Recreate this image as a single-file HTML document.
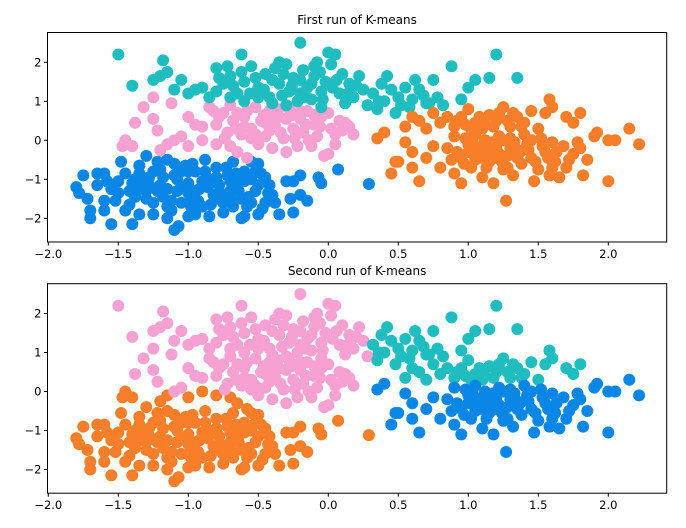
<!DOCTYPE html>
<html><head><meta charset="utf-8"><style>
body{margin:0;background:#fff}
svg{display:block;font-family:"DejaVu Sans","Liberation Sans",sans-serif}
</style></head><body>
<svg id="fig" width="686" height="528" viewBox="0 0 686 528"></svg>
<script>
// clusters of points [x, y]
const lowerLeft = [[-1.8,-1.2],[-1.78,-1.35],[-1.75,-0.9],[-1.72,-1.5],[-1.7,-1.8],[-1.7,-2.0],[-1.65,-0.85],[-1.6,-0.85],[-1.65,-1.15],[-1.6,-1.55],[-1.6,-1.8],[-1.55,-2.15],[-1.5,-1.35],[-1.45,-1.8],[-1.4,-2.15],[-1.35,-1.9],[-1.1,-2.3],[-1.07,-2.2],[-1.0,-1.95],[-0.85,-1.95],[-0.6,-1.95],[-0.5,-1.9],[-0.35,-1.9],[-0.25,-1.85],[-0.27,-1.5],[-0.3,-1.05],[-0.25,-1.05],[-0.2,-0.9],[-0.2,-1.4],[-0.15,-1.55],[-0.07,-0.95],[-0.05,-1.1],[0.07,-0.75],[0.29,-1.12],
[-1.45,-0.85],[-1.4,-1.1],[-1.38,-1.45],[-1.35,-0.65],[-1.3,-0.4],[-1.3,-1.3],[-1.28,-0.95],[-1.25,-1.6],[-1.2,-0.75],[-1.2,-1.15],[-1.18,-1.45],[-1.15,-0.5],[-1.12,-1.8],[-1.1,-0.9],[-1.08,-1.3],[-1.05,-1.6],[-1.02,-0.65],[-1.0,-1.1],[-0.98,-1.45],[-0.95,-0.8],[-0.92,-1.25],[-0.9,-1.7],[-0.88,-0.5],[-0.85,-1.0],[-0.82,-1.4],[-0.8,-0.7],[-0.78,-1.15],[-0.75,-1.6],[-0.72,-0.9],[-0.7,-1.3],[-0.68,-0.55],[-0.65,-1.1],[-0.62,-1.5],[-0.6,-0.8],[-0.58,-1.7],[-0.55,-1.0],[-0.52,-1.3],[-0.5,-0.6],[-0.48,-0.85],[-0.45,-1.6],[-0.42,-1.15],[-0.4,-1.4],[-1.5,-1.05],[-1.55,-1.25],[-1.42,-1.65],[-1.25,-1.9],[-1.15,-2.0],[-1.32,-1.05],[-0.95,-1.9],[-0.75,-1.85],[-1.48,-0.55],[-0.55,-0.55],[-0.62,-2.0],[-0.47,-1.75],[-1.1,-0.6],[-0.9,-1.05],[-1.22,-1.3],[-0.7,-1.05],[-1.35,-1.25],[-1.0,-0.8],
[-1.42,-1.3],[-1.35,-0.85],[-1.28,-1.15],[-1.22,-0.55],[-1.18,-0.95],[-1.15,-1.25],[-1.12,-1.55],[-1.05,-0.8],[-1.03,-1.2],[-0.97,-0.6],[-0.95,-1.3],[-0.93,-1.55],[-0.88,-0.8],[-0.86,-1.2],[-0.84,-1.65],[-0.8,-0.95],[-0.77,-1.35],[-0.73,-0.7],[-0.7,-1.5],[-0.66,-0.85],[-0.64,-1.3],[-0.6,-1.05],[-0.57,-1.45],[-0.52,-0.8],[-0.5,-1.15],[-0.45,-0.95],[-0.43,-1.35],[-1.25,-0.8],[-1.3,-1.5],[-1.15,-1.7],[-1.08,-1.0],[-1.0,-1.35],[-0.98,-1.7],[-1.38,-1.0],[-0.8,-1.5],[-0.68,-1.7],[-0.38,-1.6],[-0.55,-1.6],[-1.58,-1.05],[-1.52,-1.55]];
const middleLeftLow = [[-1.47,-0.15],[-1.4,-0.15],[-1.2,-0.25],[-1.15,-0.1],[-1.0,-0.15],[-0.8,-0.1],[-0.65,-0.3],[-0.58,-0.45],[-0.7,-0.15],[-1.45,0.0],[-0.9,0.0]];
const middleLeft = [[-1.38,0.45],[-1.32,0.85],[-1.25,1.1],[-1.25,0.55],[-1.22,0.25],[-1.12,0.95],[-1.1,0.0],[-1.05,0.1],[-0.95,0.4],[-0.9,0.35],[-0.85,0.85],[-0.8,0.4],[-0.75,0.7],[-0.72,0.2],[-0.7,0.9],[-0.68,0.5],[-0.62,0.15],[-0.6,0.6],[-0.55,0.3],[-0.52,0.85],[-0.5,-0.1],[-0.48,0.5],[-0.45,0.1],[-0.42,0.75],[-0.4,-0.2],[-0.38,0.35],[-0.35,0.6],[-0.32,0.05],[-0.3,-0.3],[-0.28,0.8],[-0.25,0.3],[-0.22,-0.15],[-0.2,0.55],[-0.18,0.2],[-0.15,0.75],[-0.12,-0.15],[-0.1,0.4],[-0.08,0.1],[-0.05,0.6],[-0.03,-0.4],[0.0,-0.35],[0.02,0.3],[0.05,0.15],[0.08,0.5],[0.12,0.45],[0.15,0.35],[0.18,0.15],[0.05,-0.1],[-1.0,0.6],[-0.55,0.05],[-0.65,0.7],[-0.45,0.45],[-0.3,0.55],[-0.6,0.35],
[-0.78,0.6],[-0.74,0.05],[-0.66,0.3],[-0.58,0.75],[-0.52,0.15],[-0.46,0.65],[-0.42,0.25],[-0.36,0.8],[-0.34,0.2],[-0.26,0.65],[-0.24,0.05],[-0.16,0.4],[-0.14,0.0],[-0.06,0.35],[0.0,0.7],[0.1,0.25],[-0.82,0.75],[-0.4,0.55],[-0.2,0.75],[-0.1,0.65]];
const upperLeft = [[-1.5,2.2],[-1.4,1.4],[-1.25,1.55],[-1.2,1.65],[-1.18,2.05],[-1.15,1.75],[-1.1,1.3],[-1.05,1.55],[-1.0,1.2],[-0.95,1.3],[-0.9,1.35],[-0.8,1.85],[-0.8,1.25],[-0.75,1.45],[-0.72,1.9],[-0.7,1.65],[-0.65,1.2],[-0.62,2.2],[-0.6,1.5],[-0.55,1.9],[-0.5,1.35],[-0.45,1.7],[-0.42,1.1],[-0.38,1.85],[-0.35,1.45],[-0.3,1.95],[-0.28,1.25],[-0.25,1.6],[-0.22,1.0],[-0.2,2.5],[-0.18,1.8],[-0.15,1.35],[-0.12,1.05],[-0.1,1.65],[-0.08,2.0],[-0.05,1.25],[-0.02,1.5],[0.0,2.25],[0.02,1.95],[0.05,2.2],[0.08,1.2],[0.1,1.7],[0.12,0.95],[0.15,1.45],[0.18,1.1],[0.22,1.65],[0.25,1.3],[0.28,0.9],[-0.4,0.95],[-0.6,1.0],[-0.85,1.1],[-0.3,0.9],[-0.05,0.85],[-0.5,1.1],[-0.2,1.2],
[-0.78,1.6],[-0.68,1.4],[-0.62,1.75],[-0.56,1.2],[-0.52,1.6],[-0.46,1.3],[-0.4,1.55],[-0.33,1.15],[-0.32,1.7],[-0.26,1.4],[-0.2,1.55],[-0.16,1.1],[-0.12,1.45],[-0.06,1.75],[-0.04,1.05],[0.03,1.35],[0.06,1.55],[0.14,1.2],[0.2,1.4],[-0.7,1.1],[-0.1,1.9],[-0.35,2.0]];
const upperMid = [[0.32,1.2],[0.35,0.8],[0.38,1.45],[0.4,1.0],[0.45,1.3],[0.48,0.7],[0.5,1.1],[0.55,1.35],[0.58,0.85],[0.6,1.05],[0.65,1.3],[0.7,0.95],[0.75,1.55],[0.78,1.1],[0.82,0.9],[0.88,1.9],[0.95,1.05],[1.0,1.35],[1.05,1.55],[1.15,1.6],[1.2,2.2],[1.35,1.6],[0.42,1.65],[0.62,1.55],[0.72,0.95],[0.36,1.0],[0.52,0.9],[0.68,1.15]];
const rightUpper = [[0.55,0.35],[0.6,0.6],[0.65,0.5],[0.7,0.3],[0.75,0.7],[0.8,0.45],[0.9,0.35],[0.95,0.6],[1.0,0.8],[1.05,0.45],[1.1,0.3],[1.15,0.65],[1.2,0.5],[1.25,0.85],[1.3,0.35],[1.35,0.6],[1.4,0.45],[1.5,0.3],[1.55,0.7],[1.58,1.05],[1.6,0.85],[1.7,0.6],[1.75,0.45],[1.8,0.7],[1.45,0.75],[0.85,0.6],
[0.98,0.4],[1.08,0.6],[1.12,0.4],[1.18,0.35],[1.22,0.7],[1.28,0.5],[1.32,0.7],[1.38,0.35],[1.02,0.3],[0.92,0.5]];
const rightLower = [[0.35,0.05],[0.4,0.2],[0.45,-0.85],[0.48,-0.55],[0.5,-0.55],[0.55,-0.05],[0.6,-0.3],[0.65,-1.05],[0.7,-0.45],[0.75,-0.15],[0.8,-0.7],[0.85,-0.2],[0.9,0.1],[0.95,-1.1],[0.95,-0.45],[1.0,-0.1],[1.02,-0.7],[1.05,0.15],[1.08,-0.35],[1.1,-0.95],[1.12,0.0],[1.15,-0.55],[1.18,-1.1],[1.2,-0.2],[1.22,0.1],[1.25,-0.75],[1.27,-1.55],[1.28,-0.4],[1.3,0.05],[1.32,-0.9],[1.35,-0.25],[1.38,-0.6],[1.4,0.15],[1.42,-0.1],[1.45,-0.45],[1.47,-1.05],[1.5,-0.75],[1.52,0.05],[1.55,-0.3],[1.58,-0.9],[1.6,-0.05],[1.62,-0.55],[1.65,-0.95],[1.68,-0.15],[1.7,-0.7],[1.75,-0.35],[1.78,-0.05],[1.82,-0.9],[1.85,-0.5],[1.9,0.1],[1.92,0.2],[2.0,0.0],[2.05,0.0],[2.15,0.3],[2.22,-0.1],[2.0,-1.05],[1.05,-0.5],[1.15,-0.3],[1.0,-0.3],[1.25,0.0],[1.35,-0.45],[0.9,-0.85],[0.6,-0.7],[1.1,-0.15],[1.2,-0.45],[1.3,-0.2],[0.98,0.05],
[0.92,-0.3],[0.97,-0.6],[1.03,0.0],[1.07,-0.25],[1.13,-0.7],[1.17,-0.05],[1.22,-0.35],[1.24,-0.55],[1.33,-0.05],[1.37,-0.3],[1.43,-0.25],[1.48,-0.55],[1.53,-0.15],[1.57,-0.45],[1.63,-0.3],[1.72,-0.5],[0.88,-0.5],[1.1,-0.45],[1.28,-0.7],[1.45,0.0],[1.6,-0.7],[1.8,-0.2]];
const groupNames = ['lower-left','middle-left-low','middle-left','upper-left','upper-mid','right-upper','right-lower'];
const run1Labels = ['blue','pink','pink','teal','teal','orange','orange'];
const run2Labels = ['orange','orange','pink','pink','teal','teal','blue'];
const xTicks = [-2.0,-1.5,-1.0,-0.5,0.0,0.5,1.0,1.5,2.0];
const yTicks = [2,1,0,-1,-2];
const titles = ['First run of K-means','Second run of K-means'];

const colors = {blue:'#0a87e6',pink:'#f7a1d3',teal:'#1fbdbf',orange:'#f97e29'};
const groups = [lowerLeft,middleLeftLow,middleLeft,upperLeft,upperMid,rightUpper,rightLower];
const NS = 'http://www.w3.org/2000/svg';
const svg = document.getElementById('fig');
const L = 47.5, R = 666.7;
const sx = x => 328.3 + 140 * x;
function mk(tag, attrs, parent){ const e = document.createElementNS(NS, tag); for (const k in attrs) e.setAttribute(k, attrs[k]); parent.appendChild(e); return e; }
function fmt(v){ return (v < 0 ? '\u2212' : '') + Math.abs(v).toFixed(1); }

[0,1].forEach(p => {
  const off = p * 251.2;
  const top = 32.5 + off, bottom = 242 + off;
  const sy = y => 140.3 + off - 39 * y;
  const labels = p === 0 ? run1Labels : run2Labels;
  const g = mk('g', {}, svg);
  
  
  const t = mk('text', {x: (L + R) / 2, y: 24 + off, 'text-anchor': 'middle', 'font-size': 12, fill: '#000'}, g);
  t.textContent = titles[p];
  
  
  const pts = mk('g', {}, g);
  
  
  groups.forEach((grp, gi) => {
    grp.forEach(pt => {
      const c = mk('circle', {cx: sx(pt[0]), cy: sy(pt[1]), r: 6, fill: colors[labels[gi]]}, pts);
      
      
    });
  });
  const fr = mk('rect', {x: L, y: top, width: R - L, height: bottom - top, fill: 'none', stroke: '#000', 'stroke-width': 1}, g);
  
  
  xTicks.forEach(v => {
    mk('line', {x1: sx(v), x2: sx(v), y1: bottom, y2: bottom + 3.5, stroke: '#000'}, g);
    const tx = mk('text', {x: sx(v), y: bottom + 16, 'text-anchor': 'middle', 'font-size': 11.5, fill: '#000'}, g);
    tx.textContent = fmt(v);
    
    
  });
  yTicks.forEach(v => {
    mk('line', {x1: L - 3.5, x2: L, y1: sy(v), y2: sy(v), stroke: '#000'}, g);
    const ty = mk('text', {x: L - 6, y: sy(v) + 4, 'text-anchor': 'end', 'font-size': 11.5, fill: '#000'}, g);
    ty.textContent = (v < 0 ? '\u2212' : '') + Math.abs(v);
    
    
  });
});
</script>
</body></html>
